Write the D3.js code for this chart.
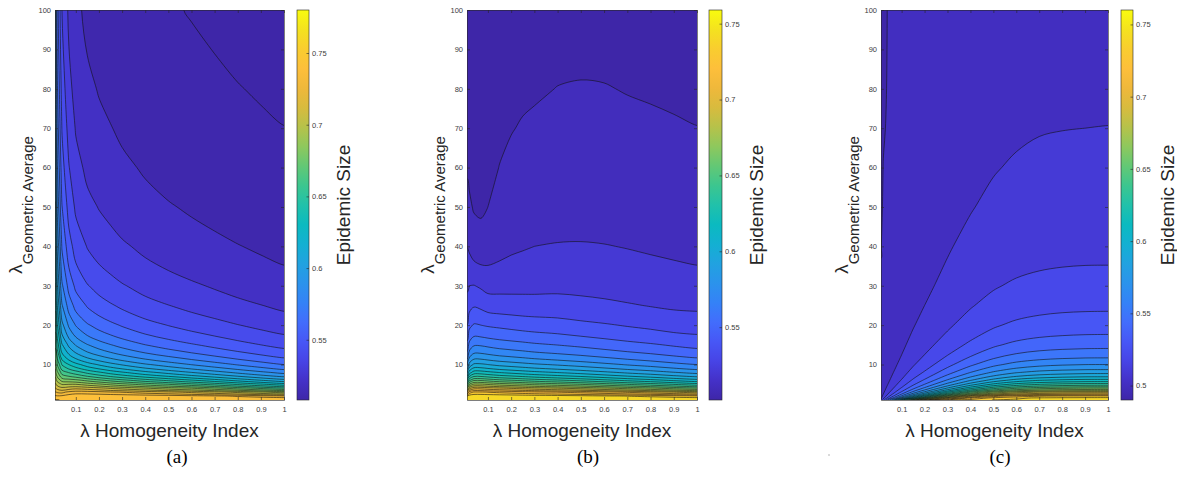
<!DOCTYPE html>
<html>
<head>
<meta charset="utf-8">
<script src="https://cdn.jsdelivr.net/npm/d3@7"></script>
<style>
  body { margin: 0; background: #fff; }
  svg { display: block; }
  text { font-family: "Liberation Sans", Arial, sans-serif; }
</style>
</head>
<body>
<div id="chart"></div>
<script>
// grid of the three contour maps: columns = homogeneity index, rows = geometric average
const homogeneity = [0.01, 0.02, 0.04, 0.07, 0.1, 0.15, 0.2, 0.25, 0.3, 0.4, 0.5, 0.6, 0.7, 0.8, 0.9, 1];
const geoAverage = [1, 1.5, 2, 3, 4, 5, 6, 8, 10, 15, 20, 25, 30, 40, 50, 60, 70, 80, 100];

// epidemic size, one array per homogeneity column (values from geoAverage 1 up to 100)
const sizeA = [
  [0.738, 0.745, 0.742, 0.731, 0.721, 0.713, 0.706, 0.695, 0.686, 0.668, 0.657, 0.648, 0.641, 0.630, 0.621, 0.615, 0.610, 0.606, 0.600],
  [0.738, 0.744, 0.741, 0.729, 0.717, 0.706, 0.697, 0.682, 0.669, 0.646, 0.631, 0.62, 0.611, 0.598, 0.588, 0.581, 0.5755, 0.5712, 0.5646],
  [0.7422, 0.7451, 0.7421, 0.7277, 0.713, 0.6992, 0.6866, 0.6656, 0.6492, 0.6211, 0.6031, 0.5909, 0.5817, 0.5691, 0.5604, 0.5543, 0.5495, 0.5456, 0.54],
  [0.7447, 0.7486, 0.747, 0.7323, 0.7159, 0.6997, 0.6847, 0.6593, 0.6399, 0.6077, 0.5884, 0.5757, 0.5666, 0.5542, 0.5462, 0.5405, 0.5362, 0.5329, 0.528],
  [0.7458, 0.7495, 0.7494, 0.735, 0.7176, 0.6998, 0.6828, 0.6548, 0.6334, 0.5992, 0.5794, 0.5666, 0.5577, 0.5459, 0.5384, 0.5332, 0.5293, 0.5263, 0.522],
  [0.7461, 0.7496, 0.7493, 0.7345, 0.7154, 0.6957, 0.6774, 0.6473, 0.625, 0.5905, 0.5712, 0.559, 0.5506, 0.5395, 0.5326, 0.5279, 0.5245, 0.5218, 0.518],
  [0.7461, 0.7496, 0.7492, 0.7332, 0.7126, 0.6915, 0.6723, 0.6414, 0.6189, 0.5849, 0.5662, 0.5545, 0.5465, 0.536, 0.5296, 0.5252, 0.5219, 0.5195, 0.516],
  [0.746, 0.7495, 0.7489, 0.7309, 0.709, 0.6871, 0.6672, 0.6359, 0.6136, 0.5804, 0.5624, 0.5511, 0.5435, 0.5336, 0.5275, 0.5233, 0.5203, 0.518, 0.5147],
  [0.746, 0.7494, 0.7482, 0.7296, 0.7064, 0.6831, 0.6629, 0.6313, 0.6091, 0.5765, 0.5591, 0.5482, 0.5408, 0.5313, 0.5255, 0.5216, 0.5187, 0.5166, 0.5135],
  [0.7459, 0.7493, 0.7469, 0.7256, 0.7004, 0.676, 0.6548, 0.6231, 0.6014, 0.5701, 0.5537, 0.5435, 0.5367, 0.528, 0.5227, 0.5191, 0.5165, 0.5146, 0.5118],
  [0.7458, 0.7491, 0.7457, 0.7222, 0.6948, 0.6696, 0.6481, 0.6165, 0.5954, 0.5653, 0.5497, 0.5402, 0.5337, 0.5256, 0.5206, 0.5173, 0.5149, 0.5131, 0.5106],
  [0.7455, 0.7483, 0.7435, 0.7178, 0.6899, 0.6627, 0.6411, 0.6101, 0.5897, 0.5611, 0.5463, 0.5373, 0.5313, 0.5236, 0.519, 0.5159, 0.5137, 0.5121, 0.5097],
  [0.7452, 0.7473, 0.7416, 0.7133, 0.6827, 0.6559, 0.6344, 0.6041, 0.5845, 0.5572, 0.5433, 0.5348, 0.5291, 0.5219, 0.5176, 0.5147, 0.5126, 0.5111, 0.5089],
  [0.7447, 0.746, 0.7387, 0.7076, 0.6752, 0.6482, 0.6272, 0.598, 0.5792, 0.5535, 0.5403, 0.5323, 0.527, 0.5203, 0.5163, 0.5136, 0.5117, 0.5102, 0.5082],
  [0.7441, 0.7447, 0.7351, 0.7017, 0.6678, 0.6411, 0.6203, 0.5922, 0.5745, 0.55, 0.5377, 0.5302, 0.5252, 0.5189, 0.5151, 0.5126, 0.5108, 0.5095, 0.5076],
  [0.7436, 0.7427, 0.7323, 0.6954, 0.661, 0.6342, 0.6141, 0.587, 0.57, 0.547, 0.5353, 0.5282, 0.5235, 0.5176, 0.5141, 0.5118, 0.5101, 0.5088, 0.5071]
];

const sizeB = [
  [0.745, 0.7465, 0.7397, 0.7088, 0.6765, 0.6492, 0.6278, 0.5982, 0.5792, 0.5532, 0.54, 0.5334, 0.5285, 0.5198, 0.5132, 0.509, 0.5069, 0.5054, 0.5036],
  [0.7462, 0.7494, 0.7471, 0.7242, 0.6966, 0.6702, 0.6479, 0.6152, 0.5935, 0.5631, 0.5475, 0.5368, 0.53, 0.5185, 0.5114, 0.5083, 0.5063, 0.505, 0.5033],
  [0.7467, 0.7497, 0.7494, 0.7311, 0.7064, 0.6811, 0.6589, 0.625, 0.6019, 0.5689, 0.551, 0.5392, 0.5303, 0.5155, 0.5092, 0.5063, 0.5047, 0.5038, 0.5025],
  [0.7467, 0.7497, 0.7494, 0.7311, 0.7064, 0.6811, 0.6589, 0.625, 0.6019, 0.5689, 0.55, 0.538, 0.5287, 0.5143, 0.5086, 0.506, 0.5046, 0.5036, 0.5025],
  [0.7466, 0.7496, 0.7493, 0.7297, 0.7042, 0.6788, 0.6566, 0.6228, 0.60, 0.5676, 0.549, 0.536, 0.5267, 0.5153, 0.51, 0.5075, 0.5059, 0.5048, 0.5033],
  [0.7464, 0.7496, 0.7486, 0.7277, 0.7015, 0.6752, 0.6529, 0.6196, 0.5972, 0.5656, 0.548, 0.5352, 0.5268, 0.517, 0.5126, 0.5102, 0.5083, 0.5069, 0.505],
  [0.7463, 0.7495, 0.7479, 0.726, 0.699, 0.6727, 0.6504, 0.6174, 0.5954, 0.5643, 0.547, 0.5348, 0.527, 0.5185, 0.5142, 0.5116, 0.5097, 0.5083, 0.5062],
  [0.7462, 0.7494, 0.7471, 0.7242, 0.6966, 0.6702, 0.6479, 0.6152, 0.5935, 0.5631, 0.546, 0.5344, 0.5272, 0.5193, 0.515, 0.5123, 0.5105, 0.509, 0.5068],
  [0.746, 0.7493, 0.7463, 0.7225, 0.6941, 0.6674, 0.6453, 0.613, 0.5916, 0.5617, 0.5453, 0.5342, 0.5273, 0.52, 0.5157, 0.5129, 0.5109, 0.5094, 0.5072],
  [0.7459, 0.7492, 0.7452, 0.7199, 0.6904, 0.6636, 0.6415, 0.6096, 0.5888, 0.5598, 0.5443, 0.534, 0.5277, 0.5205, 0.5163, 0.5135, 0.5116, 0.5101, 0.5079],
  [0.7456, 0.7486, 0.7435, 0.7168, 0.6865, 0.6594, 0.6374, 0.6062, 0.5859, 0.5578, 0.5425, 0.533, 0.5274, 0.5206, 0.5165, 0.5137, 0.5118, 0.5103, 0.5081],
  [0.7454, 0.7475, 0.7415, 0.7131, 0.6815, 0.6544, 0.6327, 0.6022, 0.5826, 0.5555, 0.541, 0.532, 0.5268, 0.5203, 0.5163, 0.5136, 0.5116, 0.5102, 0.508],
  [0.745, 0.7465, 0.7397, 0.7088, 0.6765, 0.6492, 0.6278, 0.5982, 0.5792, 0.5532, 0.5393, 0.5308, 0.5259, 0.5197, 0.5157, 0.5131, 0.5112, 0.5098, 0.5077],
  [0.7446, 0.746, 0.7375, 0.7048, 0.6718, 0.6446, 0.6235, 0.5947, 0.5763, 0.5512, 0.5378, 0.5296, 0.525, 0.519, 0.5152, 0.5127, 0.5109, 0.5095, 0.5075],
  [0.7441, 0.7442, 0.7349, 0.70, 0.666, 0.6391, 0.6185, 0.5905, 0.5729, 0.5489, 0.536, 0.5286, 0.5242, 0.5183, 0.5147, 0.5122, 0.5105, 0.5092, 0.5073],
  [0.7436, 0.7427, 0.7323, 0.6954, 0.661, 0.6342, 0.6141, 0.587, 0.57, 0.547, 0.5353, 0.5282, 0.5235, 0.5176, 0.5141, 0.5118, 0.5101, 0.5088, 0.5071]
];

const sizeC = [
  [0.512, 0.508, 0.506, 0.504, 0.503, 0.5024, 0.502, 0.5015, 0.5012, 0.5008, 0.5006, 0.5005, 0.5003, 0.4999, 0.4992, 0.498, 0.496, 0.494, 0.4901],
  [0.525, 0.5167, 0.5125, 0.5083, 0.5063, 0.505, 0.5042, 0.5031, 0.5025, 0.5017, 0.5013, 0.501, 0.5008, 0.5006, 0.5005, 0.5002, 0.4994, 0.4985, 0.497],
  [0.5499, 0.5333, 0.525, 0.5167, 0.5125, 0.51, 0.5083, 0.5063, 0.505, 0.5033, 0.5025, 0.502, 0.5017, 0.5013, 0.501, 0.5008, 0.5007, 0.5006, 0.5005],
  [0.5859, 0.5578, 0.5435, 0.529, 0.5218, 0.5174, 0.5145, 0.5109, 0.5087, 0.5058, 0.5044, 0.5035, 0.5029, 0.5022, 0.5017, 0.5015, 0.5012, 0.5011, 0.5009],
  [0.6207, 0.5824, 0.5622, 0.5416, 0.5313, 0.525, 0.5208, 0.5156, 0.5125, 0.5083, 0.5063, 0.505, 0.5042, 0.5031, 0.5025, 0.5021, 0.5018, 0.5016, 0.5013],
  [0.6702, 0.6221, 0.5935, 0.5631, 0.5474, 0.538, 0.5317, 0.5238, 0.519, 0.5127, 0.5095, 0.5076, 0.5063, 0.5048, 0.5038, 0.5032, 0.5027, 0.5024, 0.5019],
  [0.7021, 0.6542, 0.6207, 0.5824, 0.5622, 0.5499, 0.5416, 0.5312, 0.525, 0.5167, 0.5125, 0.51, 0.5083, 0.5063, 0.505, 0.5042, 0.5036, 0.5031, 0.5025],
  [0.7225, 0.6803, 0.6453, 0.6012, 0.5768, 0.5617, 0.5515, 0.5387, 0.531, 0.5207, 0.5155, 0.5124, 0.5103, 0.5078, 0.5062, 0.5052, 0.5044, 0.5039, 0.5031],
  [0.7292, 0.6986, 0.6669, 0.6192, 0.5911, 0.5735, 0.5614, 0.5462, 0.537, 0.5247, 0.5185, 0.5148, 0.5123, 0.5093, 0.5074, 0.5062, 0.5053, 0.5046, 0.5037],
  [0.7356, 0.7215, 0.6983, 0.6497, 0.6168, 0.5948, 0.5795, 0.56, 0.5481, 0.5321, 0.5241, 0.5193, 0.5161, 0.5121, 0.5096, 0.508, 0.5069, 0.506, 0.5048],
  [0.7403, 0.7333, 0.7163, 0.6715, 0.6367, 0.612, 0.5944, 0.5715, 0.5574, 0.5384, 0.5288, 0.523, 0.5192, 0.5144, 0.5115, 0.5096, 0.5082, 0.5072, 0.5058],
  [0.7422, 0.7384, 0.7251, 0.6845, 0.6492, 0.6233, 0.6043, 0.5792, 0.5637, 0.5426, 0.532, 0.5256, 0.5213, 0.516, 0.5128, 0.5107, 0.5091, 0.508, 0.5064],
  [0.743, 0.7413, 0.7292, 0.6905, 0.6559, 0.6293, 0.6098, 0.5835, 0.5672, 0.545, 0.5338, 0.527, 0.5225, 0.5169, 0.5135, 0.5113, 0.5097, 0.5085, 0.5068],
  [0.7435, 0.7421, 0.7311, 0.6934, 0.659, 0.6324, 0.6125, 0.5856, 0.569, 0.5462, 0.5347, 0.5278, 0.5231, 0.5174, 0.5139, 0.5116, 0.5099, 0.5087, 0.5069],
  [0.7436, 0.7426, 0.732, 0.6949, 0.6606, 0.6339, 0.6139, 0.5868, 0.5699, 0.5468, 0.5352, 0.5281, 0.5234, 0.5176, 0.5141, 0.5117, 0.51, 0.5088, 0.507],
  [0.7436, 0.7427, 0.7323, 0.6954, 0.661, 0.6342, 0.6141, 0.587, 0.57, 0.547, 0.5353, 0.5282, 0.5235, 0.5176, 0.5141, 0.5118, 0.5101, 0.5088, 0.5071]
];

// contour levels
const levels = [0.49, 0.50, 0.51, 0.52, 0.53, 0.54, 0.55, 0.56, 0.57, 0.58, 0.59, 0.60, 0.61, 0.62, 0.63,
  0.64, 0.65, 0.66, 0.67, 0.68, 0.69, 0.70, 0.71, 0.72, 0.73, 0.74, 0.75, 0.76, 0.77, 0.78];

const xTicks = [0.1, 0.2, 0.3, 0.4, 0.5, 0.6, 0.7, 0.8, 0.9, 1];
const yTicks = [10, 20, 30, 40, 50, 60, 70, 80, 90, 100];
const colorTicksA = [0.55, 0.6, 0.65, 0.7, 0.75];
const colorTicksB = [0.55, 0.6, 0.65, 0.7, 0.75];
const colorTicksC = [0.5, 0.55, 0.6, 0.65, 0.7, 0.75];
const colorRangeA = [0.508, 0.78];
const colorRangeB = [0.502, 0.759];
const colorRangeC = [0.49, 0.76];

// parula colormap, evenly spaced stops
const parulaStops = ["#3e26a8", "#4431c8", "#4744e6", "#4757f6", "#426dfc", "#3482f7", "#2b93ec",
  "#21a2e0", "#13b0d2", "#0bbac0", "#21c1aa", "#3cc68f", "#63c875", "#8ec85d", "#b6c24a",
  "#d8bb3e", "#efb83b", "#fdbf3b", "#f9cd2f", "#f4e21f", "#f9fb0e"];

const panels = [
  { data: sizeA, range: colorRangeA, ticks: colorTicksA, left: 55, right: 284, cbLeft: 297, cbRight: 309, ylab: 22, cbLab: 350, caption: "(a)", capX: 177 },
  { data: sizeB, range: colorRangeB, ticks: colorTicksB, left: 467, right: 697, cbLeft: 709, cbRight: 722, ylab: 434, cbLab: 763, caption: "(b)", capX: 588 },
  { data: sizeC, range: colorRangeC, ticks: colorTicksC, left: 881, right: 1108, cbLeft: 1121, cbRight: 1133, ylab: 848, cbLab: 1174, caption: "(c)", capX: 1000 }
];

const plotTop = 10, plotBottom = 400;
const axisColor = "#262626";

const svg = d3.select("#chart").append("svg")
  .attr("width", 1177)
  .attr("height", 497);
const defs = svg.append("defs");

const parula = d3.scaleLinear()
  .domain(parulaStops.map((d, i) => i / (parulaStops.length - 1)))
  .range(parulaStops)
  .interpolate(d3.interpolateRgb)
  .clamp(true);

const grad = defs.append("linearGradient")
  .attr("id", "parula")
  .attr("x1", 0).attr("y1", 1).attr("x2", 0).attr("y2", 0);
parulaStops.forEach((c, i) => {
  grad.append("stop").attr("offset", i / (parulaStops.length - 1)).attr("stop-color", c);
});

const ringLine = d3.line().curve(d3.curveCatmullRomClosed.alpha(0.5));

panels.forEach((p, k) => {
  const x = d3.scaleLinear().domain([0.01, 1]).range([p.left, p.right]);
  const y = d3.scaleLinear().domain([1, 100]).range([plotBottom, plotTop]);
  const frac = d3.scaleLinear().domain(p.range).range([0, 1]).clamp(true);
  const color = v => parula(frac(v));

  defs.append("clipPath").attr("id", "clip" + k)
    .append("rect")
      .attr("x", p.left).attr("y", plotTop)
      .attr("width", p.right - p.left).attr("height", plotBottom - plotTop);

  const plot = svg.append("g").attr("clip-path", `url(#clip${k})`);

  plot.append("rect")
    .attr("x", p.left).attr("y", plotTop)
    .attr("width", p.right - p.left).attr("height", plotBottom - plotTop)
    .attr("fill", color(p.range[0]));

  // padded grid so the polygon borders fall outside the clip
  const nx = homogeneity.length + 2, ny = geoAverage.length + 2;
  const xs = [homogeneity[0] - 0.03].concat(homogeneity, [1.03]);
  const ys = [0.6].concat(geoAverage, [110]);
  const values = new Array(nx * ny);
  for (let j = 0; j < ny; j++) {
    for (let i = 0; i < nx; i++) {
      const ci = Math.min(Math.max(i - 1, 0), homogeneity.length - 1);
      const rj = Math.min(Math.max(j - 1, 0), geoAverage.length - 1);
      values[i + j * nx] = p.data[ci][rj];
    }
  }
  // rows are interpolated in 1/geoAverage, columns linearly
  const ix = d3.scaleLinear().domain(d3.range(nx)).range(xs);
  const iu = d3.scaleLinear().domain(d3.range(ny)).range(ys.map(v => 1 / v));
  const project = c => [x(ix(c[0] - 0.5)), y(1 / iu(c[1] - 0.5))];

  const contours = d3.contours().size([nx, ny]).thresholds(levels)(values);

  const pathFor = geom => geom.coordinates.map(poly => poly.map(ring => {
    let pts = ring.map(project);
    const a = pts[0], b = pts[pts.length - 1];
    if (a[0] === b[0] && a[1] === b[1]) pts = pts.slice(0, -1);
    return ringLine(pts);
  }).join("")).join("");

  plot.selectAll("path.band")
    .data(contours)
    .join("path")
      .attr("class", "band")
      .attr("d", pathFor)
      .attr("fill", d => color(Math.max(d.value, p.range[0])))
      .attr("fill-rule", "evenodd");

  plot.selectAll("path.iso")
    .data(contours)
    .join("path")
      .attr("class", "iso")
      .attr("d", pathFor)
      .attr("fill", "none")
      .attr("stroke", "#111")
      .attr("stroke-opacity", 0.9)
      .attr("stroke-width", 0.65);

  // axes box and inward ticks
  const styleAxis = sel => {
    sel.select(".domain").attr("stroke", axisColor).attr("stroke-width", 0.6);
    sel.selectAll(".tick line").attr("stroke", axisColor).attr("stroke-width", 0.6);
    sel.selectAll(".tick text").attr("fill", "#404040").style("font-size", "7.5px")
      .style("font-family", "'Liberation Sans', Arial, sans-serif");
  };

  svg.append("g")
    .attr("transform", `translate(0,${plotBottom})`)
    .call(d3.axisBottom(x).tickValues(xTicks).tickSize(-3).tickPadding(7).tickFormat(d3.format("~g")).tickSizeOuter(0))
    .call(styleAxis);
  svg.append("g")
    .attr("transform", `translate(0,${plotTop})`)
    .call(d3.axisTop(x).tickValues(xTicks).tickSize(-3).tickFormat("").tickSizeOuter(0))
    .call(styleAxis);
  svg.append("g")
    .attr("transform", `translate(${p.left},0)`)
    .call(d3.axisLeft(y).tickValues(yTicks).tickSize(-3).tickPadding(4).tickSizeOuter(0))
    .call(styleAxis);
  svg.append("g")
    .attr("transform", `translate(${p.right},0)`)
    .call(d3.axisRight(y).tickValues(yTicks).tickSize(-3).tickFormat("").tickSizeOuter(0))
    .call(styleAxis);

  // colorbar
  svg.append("rect")
    .attr("x", p.cbLeft).attr("y", plotTop)
    .attr("width", p.cbRight - p.cbLeft).attr("height", plotBottom - plotTop)
    .attr("fill", "url(#parula)")
    .attr("stroke", axisColor)
    .attr("stroke-width", 0.6);
  const cy = d3.scaleLinear().domain(p.range).range([plotBottom, plotTop]);
  svg.append("g")
    .attr("transform", `translate(${p.cbRight},0)`)
    .call(d3.axisRight(cy).tickValues(p.ticks).tickSize(-2.5).tickPadding(3).tickFormat(d3.format("~g")).tickSizeOuter(0))
    .call(styleAxis)
    .call(g => g.select(".domain").remove());

  // titles
  svg.append("text")
    .attr("x", (p.left + p.right) / 2)
    .attr("y", 437)
    .attr("text-anchor", "middle")
    .attr("fill", axisColor)
    .style("font-size", "19px")
    .text("λ Homogeneity Index");

  const yt = svg.append("text")
    .attr("transform", `translate(${p.ylab},205) rotate(-90)`)
    .attr("text-anchor", "middle")
    .attr("fill", axisColor);
  yt.append("tspan").style("font-size", "19px").text("λ");
  yt.append("tspan").attr("dy", 11).style("font-size", "15px").text("Geometric Average");

  svg.append("text")
    .attr("transform", `translate(${p.cbLab},205) rotate(-90)`)
    .attr("text-anchor", "middle")
    .attr("fill", axisColor)
    .style("font-size", "19px")
    .text("Epidemic Size");

  svg.append("text")
    .attr("x", p.capX)
    .attr("y", 463)
    .attr("text-anchor", "middle")
    .attr("fill", "#000")
    .style("font-family", "'Liberation Serif', 'Times New Roman', serif")
    .style("font-size", "19px")
    .text(p.caption);
});

// small speck under panel (b)/(c) gap in the source figure
svg.append("circle").attr("cx", 829).attr("cy", 455).attr("r", 0.7).attr("fill", "#999");
</script>
</body>
</html>
